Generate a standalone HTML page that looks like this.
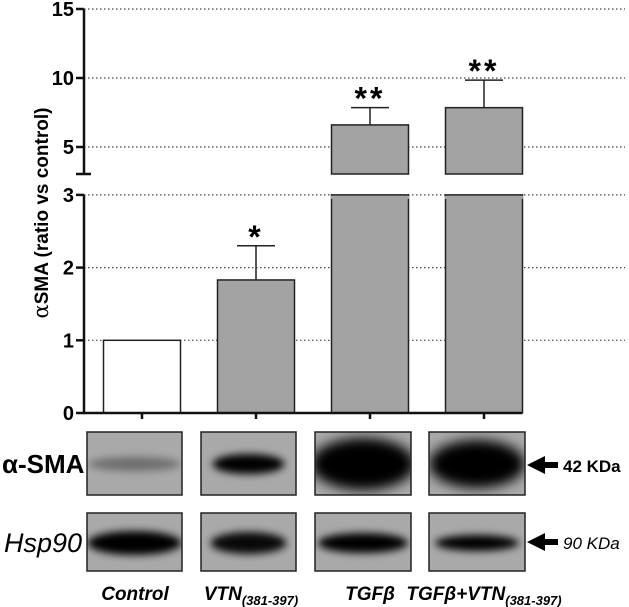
<!DOCTYPE html>
<html><head><meta charset="utf-8"><style>
html,body{margin:0;padding:0;background:#fff}
svg{display:block;font-family:"Liberation Sans",Arial,sans-serif}
</style></head><body>
<svg width="629" height="607" viewBox="0 0 629 607">
<defs>
<filter id="blur" x="-30%" y="-60%" width="160%" height="220%"><feGaussianBlur stdDeviation="4"/></filter>
<filter id="blur2" x="-30%" y="-60%" width="160%" height="220%"><feGaussianBlur stdDeviation="6"/></filter>
</defs>
<g id="chart"></g>
<g id="blots"></g>
</svg>
<script>
const categories=["Control","VTN(381-397)","TGFβ","TGFβ+VTN(381-397)"];
const values=[1,1.83,6.6,7.85];
const errors=[0,0.47,1.25,2.0];
const stars=["","*","**","**"];
const lowTicks=[0,1,2,3];
const highTicks=[5,10,15];
const NS="http://www.w3.org/2000/svg";
function mk(p,t,a,txt){const e=document.createElementNS(NS,t);for(const k in a)e.setAttribute(k,a[k]);if(txt!==undefined)e.textContent=txt;p.appendChild(e);return e;}
const chart=document.getElementById('chart');
const AX=84;
function yLow(v){return 413-v*72.7;}
function yHigh(v){return 9+(15-v)*13.8;}
const BREAK_LOW=3, BREAK_HIGH_Y=174;
function xC(i){return 142+i*114;}
const BW=77;
[1,2,3].forEach(v=>{const l=mk(chart,'line',{x1:AX,x2:625,y1:yLow(v),y2:yLow(v),stroke:'#444','stroke-width':1.2,'stroke-dasharray':'1.5 2.5'});});
highTicks.forEach(v=>{const l=mk(chart,'line',{x1:AX,x2:625,y1:yHigh(v),y2:yHigh(v),stroke:'#444','stroke-width':1.2,'stroke-dasharray':'1.5 2.5'});});
values.forEach((v,i)=>{
 const x=xC(i)-BW/2, fill=i==0?'#fff':'#a3a3a3';
 if(v<=BREAK_LOW){
  const r=mk(chart,'rect',{x:x,y:yLow(v),width:BW,height:yLow(0)-yLow(v),fill:fill,stroke:'#222','stroke-width':1.5});
  
 } else {
  const r1=mk(chart,'rect',{x:x,y:yLow(BREAK_LOW),width:BW,height:yLow(0)-yLow(BREAK_LOW),fill:fill,stroke:'#222','stroke-width':1.5});
  
  const r2=mk(chart,'rect',{x:x,y:yHigh(v),width:BW,height:BREAK_HIGH_Y-yHigh(v),fill:fill,stroke:'#222','stroke-width':1.5});
  
  mk(chart,'rect',{x:x-1,y:yLow(BREAK_LOW)+1,width:BW+2,height:3,fill:fill});
 }
 const yf=v<=BREAK_LOW?yLow:yHigh;
 let topY=yf(v);
 if(errors[i]>0){
  const ey=yf(v+errors[i]);
  const e=mk(chart,'path',{d:`M${xC(i)} ${topY} V${ey} M${xC(i)-19} ${ey} H${xC(i)+19}`,stroke:'#222','stroke-width':1.5,fill:'none'});
  
  topY=ey;
 }
 if(stars[i]){const t=mk(chart,'text',{x:xC(i),y:topY+2,'text-anchor':'middle','font-size':32,'font-weight':'bold','letter-spacing':3},stars[i]);}
 const tk=mk(chart,'line',{x1:xC(i),x2:xC(i),y1:413,y2:419,stroke:'#111','stroke-width':2.5});
 
});
const a1=mk(chart,'path',{d:`M${AX} ${yLow(BREAK_LOW)} V413 H522`,stroke:'#111','stroke-width':2.5,fill:'none'});

const a2=mk(chart,'path',{d:`M${AX} ${yHigh(15)} V${BREAK_HIGH_Y} M76 ${BREAK_HIGH_Y} H91`,stroke:'#111','stroke-width':2.5,fill:'none'});

lowTicks.forEach(v=>{mk(chart,'line',{x1:76,x2:AX,y1:yLow(v),y2:yLow(v),stroke:'#111','stroke-width':2.5});
 const t=mk(chart,'text',{x:74,y:yLow(v)+7,'text-anchor':'end','font-size':20,'font-weight':'bold'},String(v));});
highTicks.forEach(v=>{mk(chart,'line',{x1:76,x2:AX,y1:yHigh(v),y2:yHigh(v),stroke:'#111','stroke-width':2.5});
 const t=mk(chart,'text',{x:74,y:yHigh(v)+7,'text-anchor':'end','font-size':20,'font-weight':'bold'},String(v));});
const yt=mk(chart,'text',{x:0,y:0,transform:'translate(48,213) rotate(-90)','text-anchor':'middle','font-size':19,'font-weight':'bold'});

mk(yt,'tspan',{'font-weight':'normal','font-family':'"DejaVu Serif",serif','font-size':21},'α');
mk(yt,'tspan',{},'SMA (ratio vs control)');

const blots=document.getElementById('blots');
const boxX=[87,201,315,429], boxW=[95,95,96,96];
const sma=[{rx:46,ry:7,op:0.35},{rx:36,ry:10,op:1},{rx:52,ry:26,op:1},{rx:48,ry:24,op:1}];
const hsp=[{rx:47,ry:12,op:1},{rx:38,ry:11,op:0.95},{rx:45,ry:10,op:1},{rx:42,ry:8,op:1}];
boxX.forEach((x,i)=>{
 [[432,63,sma[i],464,'alpha-sma-blot-'],[513,58,hsp[i],543,'hsp90-blot-']].forEach(([y,h,b,cy,nm])=>{
  const g=mk(blots,'g',{});
  const cid='c'+nm+i;
  const cp=mk(g,'clipPath',{id:cid});mk(cp,'rect',{x:x,y:y,width:boxW[i],height:h});
  const inner=mk(g,'g',{'clip-path':`url(#${cid})`});
  mk(inner,'rect',{x:x,y:y,width:boxW[i],height:h,fill:'#a9a9a9'});
  mk(inner,'ellipse',{cx:x+boxW[i]/2,cy:cy,rx:b.rx,ry:b.ry,fill:'#000',opacity:b.op,filter:b.ry>20?'url(#blur2)':'url(#blur)'});
  mk(g,'rect',{x:x,y:y,width:boxW[i],height:h,fill:'none',stroke:'#222','stroke-width':1.5});
 });
});
function lab(txt,x,y,attrs,name){const t=mk(blots,'text',Object.assign({x:x,y:y},attrs),txt);return t;}
lab('α-SMA',2,473,{'font-size':26,'font-weight':'bold'},'alpha-sma-label');
lab('Hsp90',4,552,{'font-size':27,'font-style':'italic'},'hsp90-label');
const ar1=mk(blots,'path',{d:'M527 465 L545 456 L545 462 L558 462 L558 468 L545 468 L545 474 Z',fill:'#000'});

const ar2=mk(blots,'path',{d:'M527 542 L545 533 L545 539 L558 539 L558 545 L545 545 L545 551 Z',fill:'#000'});

lab('42 KDa',563,472,{'font-size':17,'font-weight':'bold'},'label-42kda');
lab('90 KDa',563,549,{'font-size':17,'font-style':'italic'},'label-90kda');
const xl=[["Control",""],["VTN","(381-397)"],["TGFβ",""],["TGFβ+VTN","(381-397)"]];
xl.forEach((p,i)=>{
 const t=lab('',xC(i)-(i==0?7:0)-(i==1?5:0),600,{'text-anchor':'middle','font-size':19,'font-weight':'bold','font-style':'italic'},'x-label-'+i);
 mk(t,'tspan',{},p[0]);
 if(p[1])mk(t,'tspan',{'font-size':13,dy:5},p[1]);
});
</script>
</body></html>
